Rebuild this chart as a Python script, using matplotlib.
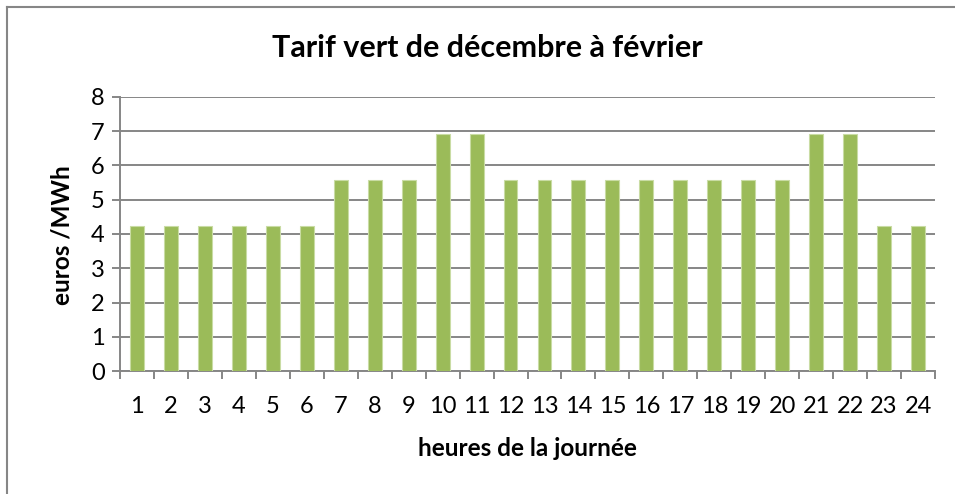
import matplotlib
matplotlib.use("Agg")
import matplotlib.pyplot as plt
from matplotlib.lines import Line2D
import numpy as np

plt.rcParams['font.family'] = ['Lato', 'DejaVu Sans']

hours = [str(h) for h in range(1, 25)]
tariff = [4.23, 4.23, 4.23, 4.23, 4.23, 4.23,
          5.57, 5.57, 5.57,
          6.92, 6.92,
          5.57, 5.57, 5.57, 5.57, 5.57, 5.57, 5.57, 5.57, 5.57,
          6.92, 6.92,
          4.23, 4.23]
y_ticks = [0, 1, 2, 3, 4, 5, 6, 7, 8]

title = "Tarif vert de décembre à février"
x_label = "heures de la journée"
y_label = "euros /MWh"

W, H = 955, 494
fig = plt.figure(figsize=(W / 100, H / 100), dpi=100)
fig.patch.set_facecolor('white')

# chart frame (left and top edges visible)
grey = '#868686'
fig.add_artist(Line2D([7 / W, 7 / W], [0, 1 - 7 / H], color=grey, lw=1.5,
                      transform=fig.transFigure))
fig.add_artist(Line2D([7 / W, 1], [1 - 7 / H, 1 - 7 / H], color=grey, lw=1.5,
                      transform=fig.transFigure))

left, right, top, bottom = 120, 935, 96.7, 371.3
ax = fig.add_axes([left / W, 1 - bottom / H, (right - left) / W, (bottom - top) / H])

x = np.arange(1, len(hours) + 1)
ax.bar(x, tariff, width=0.41, color='#9BBB59', edgecolor='#C9DCA4',
       linewidth=0.8, zorder=3)

ax.set_xlim(0.5, len(hours) + 0.5)
ax.set_ylim(0, 8)
ax.set_yticks(y_ticks)
ax.set_yticklabels([str(v) for v in y_ticks])
ax.yaxis.grid(True, color=grey, linewidth=1.4, zorder=0)
ax.set_axisbelow(True)

# category labels centred, tick marks on category boundaries
ax.set_xticks(x)
ax.set_xticklabels(hours)
ax.set_xticks(np.arange(0.5, len(hours) + 1), minor=True)
ax.tick_params(axis='x', which='major', length=0, pad=18, labelsize=17)
ax.tick_params(axis='x', which='minor', length=6, width=1.4, color=grey,
               direction='out')
ax.tick_params(axis='y', length=6, width=1.4, color=grey, labelsize=17, pad=5)

for side in ('top', 'right'):
    ax.spines[side].set_visible(False)
for side in ('left', 'bottom'):
    ax.spines[side].set_color(grey)
    ax.spines[side].set_linewidth(1.4)

fig.text(487 / W, 1 - 48 / H, title, ha='center', va='center',
         fontsize=22, fontweight='bold')
fig.text(527 / W, 1 - 448 / H, x_label, ha='center', va='center',
         fontsize=17.5, fontweight='bold')
fig.text(62 / W, 1 - 235 / H, y_label, ha='center', va='center',
         rotation=90, fontsize=17.5, fontweight='bold')

fig.savefig('out.png', dpi=100)
